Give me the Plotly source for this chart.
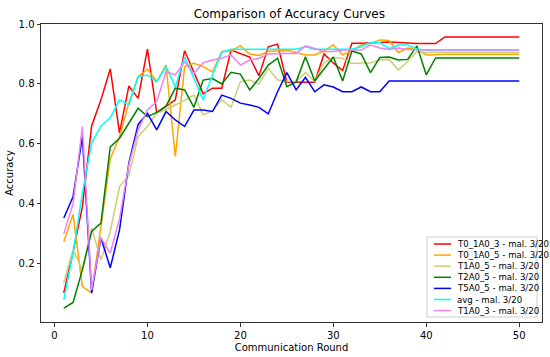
import plotly.graph_objects as go

rounds = list(range(1, 51))

t0_1a0_3 = [0.103, 0.24, 0.39, 0.66, 0.747, 0.85, 0.637, 0.793, 0.752, 0.916,
            0.703, 0.724, 0.747, 0.911, 0.84, 0.767, 0.786, 0.786, 0.913, 0.902,
            0.89, 0.827, 0.924, 0.933, 0.806, 0.806, 0.806, 0.806, 0.90, 0.87,
            0.845, 0.936, 0.936, 0.936, 0.938, 0.94, 0.938, 0.936, 0.935, 0.935,
            0.935, 0.957, 0.957, 0.957, 0.957, 0.957, 0.957, 0.957, 0.957, 0.957]
t0_1a0_5 = [0.274, 0.365, 0.124, 0.103, 0.324, 0.55, 0.624, 0.736, 0.824, 0.849,
            0.808, 0.863, 0.558, 0.858, 0.869, 0.858, 0.84, 0.908, 0.91, 0.927,
            0.90, 0.895, 0.908, 0.91, 0.912, 0.905, 0.897, 0.897, 0.91, 0.93,
            0.897, 0.91, 0.93, 0.935, 0.947, 0.945, 0.905, 0.92, 0.915, 0.897,
            0.899, 0.899, 0.899, 0.899, 0.899, 0.899, 0.899, 0.899, 0.899, 0.899]
t1a0_5 = [0.137, 0.247, 0.18, 0.32, 0.213, 0.308, 0.458, 0.495, 0.624, 0.658,
          0.703, 0.715, 0.73, 0.745, 0.763, 0.697, 0.71, 0.747, 0.722, 0.808,
          0.813, 0.80, 0.852, 0.813, 0.808, 0.808, 0.838, 0.808, 0.871, 0.888,
          0.885, 0.868, 0.87, 0.87, 0.88, 0.882, 0.847, 0.875, 0.908, 0.905,
          0.906, 0.906, 0.906, 0.906, 0.906, 0.906, 0.906, 0.906, 0.906, 0.906]
t2a0_5 = [0.052, 0.071, 0.18, 0.308, 0.336, 0.59, 0.619, 0.669, 0.719, 0.691,
          0.705, 0.726, 0.786, 0.78, 0.722, 0.813, 0.818, 0.80, 0.839, 0.833,
          0.78, 0.818, 0.863, 0.886, 0.791, 0.807, 0.891, 0.81, 0.85, 0.89,
          0.81, 0.91, 0.90, 0.838, 0.888, 0.89, 0.88, 0.882, 0.927, 0.83,
          0.887, 0.887, 0.887, 0.887, 0.887, 0.887, 0.887, 0.887, 0.887, 0.887]
t5a0_5 = [0.353, 0.424, 0.624, 0.103, 0.287, 0.187, 0.313, 0.536, 0.665, 0.702,
          0.647, 0.708, 0.68, 0.658, 0.713, 0.713, 0.708, 0.763, 0.752, 0.736,
          0.73, 0.722, 0.70, 0.774, 0.838, 0.78, 0.822, 0.774, 0.797, 0.79,
          0.774, 0.774, 0.79, 0.774, 0.774, 0.81, 0.81, 0.81, 0.81, 0.81,
          0.81, 0.81, 0.81, 0.81, 0.81, 0.81, 0.81, 0.81, 0.81, 0.81]
avg = [0.08, 0.236, 0.436, 0.603, 0.66, 0.687, 0.747, 0.73, 0.824, 0.83,
       0.808, 0.858, 0.791, 0.89, 0.819, 0.747, 0.83, 0.906, 0.916, 0.916,
       0.916, 0.916, 0.916, 0.916, 0.916, 0.916, 0.924, 0.916, 0.916, 0.916,
       0.916, 0.916, 0.924, 0.938, 0.938, 0.918, 0.93, 0.93, 0.916, 0.913,
       0.913, 0.913, 0.913, 0.913, 0.913, 0.913, 0.913, 0.913, 0.913, 0.913]
t1a0_3 = [0.30, 0.40, 0.658, 0.113, 0.287, 0.236, 0.35, 0.53, 0.647, 0.713,
          0.741, 0.841, 0.83, 0.874, 0.835, 0.871, 0.88, 0.886, 0.897, 0.863,
          0.88, 0.886, 0.90, 0.902, 0.902, 0.902, 0.927, 0.918, 0.908, 0.908,
          0.913, 0.913, 0.913, 0.93, 0.92, 0.915, 0.92, 0.915, 0.913, 0.913,
          0.913, 0.913, 0.913, 0.913, 0.913, 0.913, 0.913, 0.913, 0.913, 0.913]

series_names = ["T0_1A0_3 - mal. 3/20", "T0_1A0_5 - mal. 3/20", "T1A0_5 - mal. 3/20",
                "T2A0_5 - mal. 3/20", "T5A0_5 - mal. 3/20", "avg - mal. 3/20",
                "T1A0_3 - mal. 3/20"]
series_values = [t0_1a0_3, t0_1a0_5, t1a0_5, t2a0_5, t5a0_5, avg, t1a0_3]
colors = ["#ff0000", "#ffa500", "#cdcd78", "#008000", "#0000ff", "#00ffff", "#ee82ee"]

W, H = 550, 357
ML, MR, MT, MB = 41, 8, 24, 35
PW, PH = W - ML - MR, H - MT - MB


def px(x):
    return (x - ML) / PW


def py(y):
    return (H - MB - y) / PH


fig = go.Figure()
for name, vals, col in zip(series_names, series_values, colors):
    fig.add_trace(go.Scatter(x=rounds, y=vals, mode="lines", name=name,
                             line=dict(color=col, width=1.5)))

# compact matplotlib-style legend box
shapes = [dict(type="rect", xref="paper", yref="paper",
               x0=px(427), x1=px(537), y0=py(317), y1=py(237),
               line=dict(color="#cccccc", width=1), fillcolor="rgba(255,255,255,0.85)",
               layer="above")]
annotations = []
for i, (name, col) in enumerate(zip(series_names, colors)):
    yc = 244 + 11.1 * i
    shapes.append(dict(type="line", xref="paper", yref="paper",
                       x0=px(434), x1=px(451), y0=py(yc), y1=py(yc),
                       line=dict(color=col, width=1.5), layer="above"))
    annotations.append(dict(text=name, xref="paper", yref="paper",
                            x=px(455), y=py(yc), xanchor="left", yanchor="middle",
                            showarrow=False,
                            font=dict(size=8.6, family="DejaVu Sans", color="#000")))

axis_common = dict(showgrid=False, zeroline=False, showline=True, mirror=True,
                   linecolor="#333333", linewidth=1, ticks="outside", ticklen=3.5,
                   tickcolor="#333333", automargin=False,
                   tickfont=dict(family="DejaVu Sans", size=10, color="#000"))

fig.update_layout(
    width=W, height=H,
    margin=dict(l=ML, r=MR, t=MT, b=MB, autoexpand=False),
    paper_bgcolor="white", plot_bgcolor="white",
    font=dict(family="DejaVu Sans", color="#000"),
    title=dict(text="Comparison of Accuracy Curves", x=0.526, xanchor="center",
               y=1 - 14 / H, yanchor="middle", font=dict(size=12, family="DejaVu Sans")),
    xaxis=dict(range=[-1.45, 52.45], tickvals=[0, 10, 20, 30, 40, 50],
               title=dict(text="Communication Round", standoff=4,
                          font=dict(size=10, family="DejaVu Sans")), **axis_common),
    yaxis=dict(range=[0.006, 1.0], tickvals=[0.2, 0.4, 0.6, 0.8, 1.0],
               tickformat=".1f",
               title=dict(text="Accuracy", standoff=3,
                          font=dict(size=10, family="DejaVu Sans")), **axis_common),
    showlegend=False,
    shapes=shapes,
    annotations=annotations,
)

fig.write_html("out.html", config={"displayModeBar": False},
               post_script="document.body.style.margin='0';document.body.style.padding='0';")
